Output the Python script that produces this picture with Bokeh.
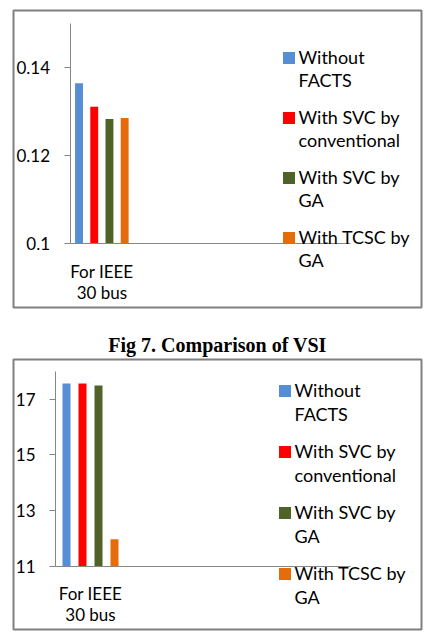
from bokeh.plotting import figure
from bokeh.layouts import column
from bokeh.models import Range1d, FixedTicker, Legend, LegendItem, ColumnDataSource
from bokeh.embed import file_html
from bokeh.resources import INLINE

# ---- data ----
category_label = "For IEEE\n30 bus"
series_line1 = ["Without", "With SVC by", "With SVC by", "With TCSC by"]
series_line2 = ["FACTS", "conventional", "GA", "GA"]
colors = ["#558ED5", "#FF0000", "#4F6228", "#E46C0A"]

vsi_values = [0.1364, 0.1311, 0.1283, 0.1285]
vsi_ticks = [0.1, 0.12, 0.14]
vsi_tick_labels = ["0.1", "0.12", "0.14"]
vsi_bounds = (0.1, 0.15)

second_values = [17.56, 17.56, 17.49, 11.98]
second_ticks = [11, 13, 15, 17]
second_tick_labels = ["11", "13", "15", "17"]
second_bounds = (11, 18)

caption = "Fig 7. Comparison of VSI"

FONT = "Lato"
GRAY = "#868686"


def make_chart(values, bounds, ticks, tick_labels, g, title=None):
    # g: layout geometry in pixels
    W, H = 426, g["h"]
    fl, fr, ft, fb = g["frame"]          # frame box (canvas px)
    px_per_bar = g["pitch"]               # px between bar centres
    px_per_unit = g["ppu"]                # px per y unit
    x0_px, base_px = g["bar0"], g["base"] # first bar centre, baseline (canvas px)
    axis_px, xaxis_end_px = g["yaxis"], g["xend"]

    x_start = -(x0_px - fl) / px_per_bar
    x_end = (fr - x0_px) / px_per_bar
    y_start = bounds[0] - (fb - base_px) / px_per_unit
    y_end = bounds[0] + (base_px - ft) / px_per_unit
    yaxis_x = -(x0_px - axis_px) / px_per_bar
    xaxis_right = (xaxis_end_px - x0_px) / px_per_bar

    p = figure(width=W, height=H, output_backend="svg", toolbar_location=None,
               x_range=Range1d(x_start, x_end), y_range=Range1d(y_start, y_end),
               min_border_left=fl, min_border_right=W - fr,
               min_border_top=ft, min_border_bottom=H - fb)
    p.outline_line_color = "#808080"
    p.outline_line_width = 2
    p.background_fill_color = "white"
    p.border_fill_color = "white"
    p.grid.visible = False

    xs = list(range(len(values)))
    src = ColumnDataSource(dict(x=xs, top=values, color=colors, name=series_line1))
    r = p.vbar(x="x", top="top", bottom=bounds[0], width=g["barw"], color="color",
               line_color=None, source=src)
    dummy = p.vbar(x=[], top=[], width=0.5, fill_alpha=0, line_alpha=0)

    # y axis
    ya = p.yaxis[0]
    ya.fixed_location = yaxis_x
    ya.bounds = bounds
    ya.ticker = FixedTicker(ticks=ticks)
    ya.major_label_overrides = {t: l for t, l in zip(ticks, tick_labels)}
    ya.axis_line_color = GRAY
    ya.major_tick_line_color = GRAY
    ya.major_tick_out = 6
    ya.major_tick_in = 0
    ya.minor_tick_line_color = None
    ya.major_label_standoff = 14
    ya.major_label_text_font = FONT
    ya.major_label_text_font_size = "17px"
    ya.major_label_text_color = "black"

    # x axis (category)
    xa = p.xaxis[0]
    xa.fixed_location = bounds[0]
    xa.bounds = (yaxis_x, xaxis_right)
    center = (len(values) - 1) / 2
    xa.ticker = FixedTicker(ticks=[center])
    xa.major_label_overrides = {center: category_label}
    xa.axis_line_color = GRAY
    xa.major_tick_line_color = None
    xa.minor_tick_line_color = None
    xa.major_label_standoff = g["cat_standoff"]
    xa.major_label_text_font = FONT
    xa.major_label_text_font_size = "17px"
    xa.major_label_text_line_height = 1.0
    xa.major_label_text_color = "black"

    def style(leg):
        leg.label_text_font = FONT
        leg.label_text_font_size = "18px"
        leg.label_text_color = "black"
        leg.glyph_width = 15
        leg.glyph_height = 15
        leg.label_height = 24
        leg.label_standoff = 3
        leg.spacing = g["lspacing"]
        leg.padding = 0
        leg.margin = 0
        leg.border_line_color = None
        leg.background_fill_alpha = 0

    lx = g["lx"] - fl
    items1 = [LegendItem(label=series_line1[i], renderers=[r], index=i) for i in range(len(values))]
    leg1 = Legend(items=items1, location=(lx, fb - g["l1_bottom"]))
    style(leg1)
    p.add_layout(leg1)
    items2 = [LegendItem(label=series_line2[i], renderers=[dummy]) for i in range(len(values))]
    leg2 = Legend(items=items2, location=(lx, fb - g["l2_bottom"]))
    style(leg2)
    p.add_layout(leg2)

    if title:
        p.title.text = title
        p.title.text_font = "Liberation Serif"
        p.title.text_font_size = "20px"
        p.title.text_font_style = "bold"
        p.title.text_color = "black"
        p.title.align = "center"
        p.title.standoff = 7
    return p


g1 = dict(h=317, frame=(11, 422, 10, 307), pitch=15.33, ppu=4400.0, bar0=77, base=243,
          yaxis=68, xend=350, barw=0.52, lx=278.5, lspacing=36, l1_bottom=249, l2_bottom=272,
          cat_standoff=11)
g2 = dict(h=317, frame=(13, 421, 42, 312), pitch=16.0, ppu=27.9, bar0=66, base=249,
          yaxis=55, xend=350, barw=0.5, lx=276.5, lspacing=37, l1_bottom=268, l2_bottom=292,
          cat_standoff=10)

p1 = make_chart(vsi_values, vsi_bounds, vsi_ticks, vsi_tick_labels, g1)
p2 = make_chart(second_values, second_bounds, second_ticks, second_tick_labels, g2, caption)

layout = column(p1, p2, spacing=0)
open("out.html", "w").write(file_html(layout, INLINE))
